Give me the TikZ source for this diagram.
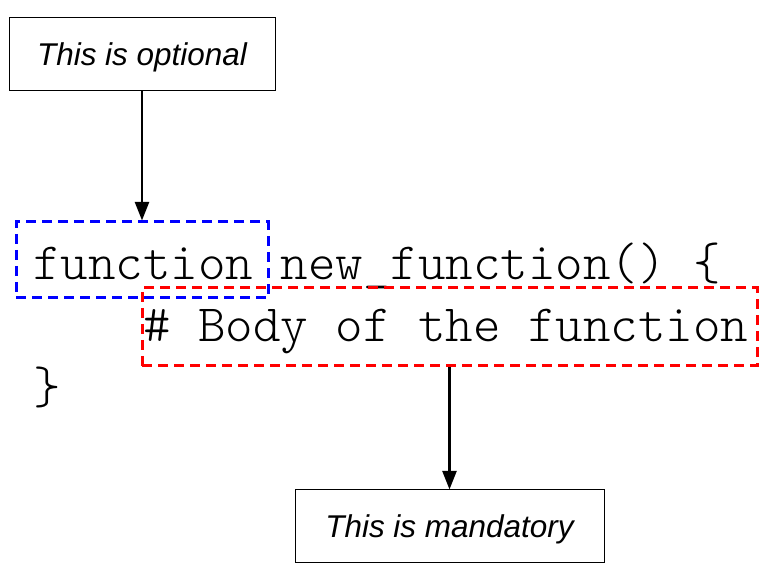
\documentclass[tikz,border=0pt]{standalone}
\usepackage{fontspec}
\setmainfont{Liberation Sans}
\setmonofont{Latin Modern Mono Light}
\usepackage{tikz}
\usetikzlibrary{arrows.meta}

\tikzset{
  note/.style={draw, line width=0.75pt, inner sep=0pt,
    text height=16.9pt, text depth=0pt,
    font=\fontsize{23.6pt}{28pt}\selectfont\itshape},
  code/.style={inner sep=0pt, anchor=base west,
    font=\fontsize{39.3pt}{46pt}\selectfont\ttfamily},
  mark box/.style={draw=#1, line width=2.25pt, dash pattern=on 7.5pt off 4.5pt},
  pointer/.style={line width=2pt, -{Triangle[length=14pt,width=10.5pt]}}
}

\begin{document}
\begin{tikzpicture}[x=0.75pt,y=-0.75pt]
    \useasboundingbox (0,0) rectangle (772,580);
    % Code lines
    \node[code] (line1) at (33,280) {function new\_function() \{};
    \node[code] (line2) at (143,342) {\# Body of the function};
    \node[code] (line3) at (33,404) {\}};
    % Dashed frames
    \node[mark box=blue, minimum width=189pt, minimum height=57pt] (kw) at (142,260) {};
    \node[mark box=red, minimum width=461.25pt, minimum height=58.5pt] (body) at (449.5,327) {};
    % Notes
    \node[note, minimum width=199.5pt, minimum height=54.75pt] (opt) at (142,54.5) {This is optional};
    \node[note, minimum width=231.75pt, minimum height=54.75pt] (mand) at (449.5,526.5) {This is mandatory};
    % Arrows
    \draw[pointer] (opt.south) -- (kw.north);
    \draw[pointer] (body.south) -- (mand.north);
\end{tikzpicture}
\end{document}
